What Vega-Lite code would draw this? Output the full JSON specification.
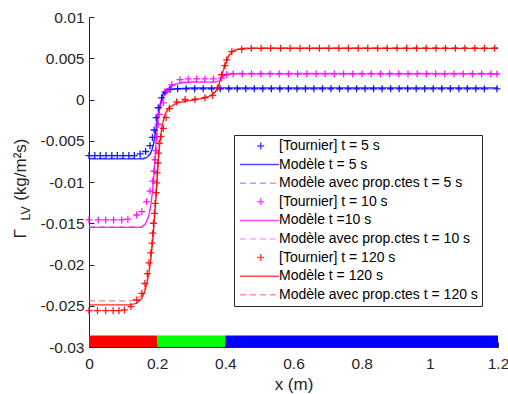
{
  "$schema": "https://vega.github.io/schema/vega-lite/v6.json",
  "width": 409,
  "height": 330,
  "autosize": {"type": "none"},
  "padding": {"left": 89, "top": 17, "right": 10, "bottom": 47},
  "background": "white",
  "config": {
    "view": {"stroke": null},
    "font": "Liberation Sans",
    "axis": {
      "labelFont": "Liberation Sans", "labelFontSize": 15.5, "labelColor": "#262626", "labelFlush": false,
      "titleFont": "Liberation Sans", "titleFontSize": 17, "titleColor": "#262626", "titleFontWeight": "normal",
      "domainColor": "#262626", "tickColor": "#262626", "grid": false, "tickSize": -5, "labelPadding": 10
    },
    "legend": {
      "orient": "none", "legendX": 145, "legendY": 118,
      "strokeColor": "#262626", "fillColor": "white", "padding": 4, "rowPadding": 4.6,
      "labelFont": "Liberation Sans", "labelFontSize": 14, "labelColor": "#000000",
      "symbolSize": 100, "symbolStrokeWidth": 1.5, "labelOffset": 27, "labelLimit": 400
    }
  },
  "datasets": {
    "tour": [
      {"x": 0, "y": -0.0068, "s": "t5"}, {"x": 0.017, "y": -0.0068, "s": "t5"}, {"x": 0.033, "y": -0.0068, "s": "t5"},
      {"x": 0.05, "y": -0.0068, "s": "t5"}, {"x": 0.067, "y": -0.0068, "s": "t5"}, {"x": 0.083, "y": -0.0068, "s": "t5"},
      {"x": 0.1, "y": -0.0068, "s": "t5"}, {"x": 0.117, "y": -0.0068, "s": "t5"}, {"x": 0.133, "y": -0.0068, "s": "t5"},
      {"x": 0.15, "y": -0.0066, "s": "t5"}, {"x": 0.166, "y": -0.0063, "s": "t5"}, {"x": 0.179, "y": -0.0056, "s": "t5"},
      {"x": 0.186, "y": -0.0046, "s": "t5"}, {"x": 0.191, "y": -0.0037, "s": "t5"}, {"x": 0.197, "y": -0.0022, "s": "t5"},
      {"x": 0.203, "y": -0.001, "s": "t5"}, {"x": 0.213, "y": 0.0002, "s": "t5"}, {"x": 0.223, "y": 0.0009, "s": "t5"},
      {"x": 0.238, "y": 0.0012, "s": "t5"}, {"x": 0.26, "y": 0.0013, "s": "t5"}, {"x": 0.285, "y": 0.0013, "s": "t5"},
      {"x": 0.31, "y": 0.0013, "s": "t5"}, {"x": 0.335, "y": 0.0013, "s": "t5"}, {"x": 0.36, "y": 0.0013, "s": "t5"},
      {"x": 0.385, "y": 0.0013, "s": "t5"}, {"x": 0.41, "y": 0.0013, "s": "t5"}, {"x": 0.435, "y": 0.0013, "s": "t5"},
      {"x": 0.46, "y": 0.0013, "s": "t5"}, {"x": 0.485, "y": 0.0013, "s": "t5"}, {"x": 0.51, "y": 0.0013, "s": "t5"},
      {"x": 0.535, "y": 0.0013, "s": "t5"}, {"x": 0.56, "y": 0.0013, "s": "t5"}, {"x": 0.585, "y": 0.0013, "s": "t5"},
      {"x": 0.61, "y": 0.0013, "s": "t5"}, {"x": 0.635, "y": 0.0013, "s": "t5"}, {"x": 0.66, "y": 0.0013, "s": "t5"},
      {"x": 0.685, "y": 0.0013, "s": "t5"}, {"x": 0.71, "y": 0.0013, "s": "t5"}, {"x": 0.735, "y": 0.0013, "s": "t5"},
      {"x": 0.76, "y": 0.0013, "s": "t5"}, {"x": 0.785, "y": 0.0013, "s": "t5"}, {"x": 0.81, "y": 0.0013, "s": "t5"},
      {"x": 0.835, "y": 0.0013, "s": "t5"}, {"x": 0.86, "y": 0.0013, "s": "t5"}, {"x": 0.885, "y": 0.0013, "s": "t5"},
      {"x": 0.91, "y": 0.0013, "s": "t5"}, {"x": 0.935, "y": 0.0013, "s": "t5"}, {"x": 0.96, "y": 0.0013, "s": "t5"},
      {"x": 0.985, "y": 0.0013, "s": "t5"}, {"x": 1.01, "y": 0.0013, "s": "t5"}, {"x": 1.035, "y": 0.0013, "s": "t5"},
      {"x": 1.06, "y": 0.0013, "s": "t5"}, {"x": 1.085, "y": 0.0013, "s": "t5"}, {"x": 1.11, "y": 0.0013, "s": "t5"},
      {"x": 1.135, "y": 0.0013, "s": "t5"}, {"x": 1.16, "y": 0.0013, "s": "t5"}, {"x": 1.197, "y": 0.0013, "s": "t5"},

      {"x": 0, "y": -0.0146, "s": "t10"}, {"x": 0.027, "y": -0.0146, "s": "t10"}, {"x": 0.049, "y": -0.0146, "s": "t10"},
      {"x": 0.072, "y": -0.0146, "s": "t10"}, {"x": 0.096, "y": -0.0146, "s": "t10"}, {"x": 0.114, "y": -0.0145, "s": "t10"},
      {"x": 0.14, "y": -0.014, "s": "t10"}, {"x": 0.155, "y": -0.0136, "s": "t10"}, {"x": 0.169, "y": -0.0124, "s": "t10"},
      {"x": 0.179, "y": -0.0111, "s": "t10"}, {"x": 0.187, "y": -0.0099, "s": "t10"}, {"x": 0.191, "y": -0.0087, "s": "t10"},
      {"x": 0.194, "y": -0.0073, "s": "t10"}, {"x": 0.197, "y": -0.0062, "s": "t10"}, {"x": 0.2, "y": -0.0045, "s": "t10"},
      {"x": 0.203, "y": -0.003, "s": "t10"}, {"x": 0.206, "y": -0.0018, "s": "t10"}, {"x": 0.218, "y": -0.0004, "s": "t10"},
      {"x": 0.228, "y": 0.001, "s": "t10"}, {"x": 0.243, "y": 0.0018, "s": "t10"}, {"x": 0.267, "y": 0.0024, "s": "t10"},
      {"x": 0.291, "y": 0.0025, "s": "t10"}, {"x": 0.316, "y": 0.0025, "s": "t10"}, {"x": 0.34, "y": 0.0025, "s": "t10"},
      {"x": 0.365, "y": 0.0025, "s": "t10"}, {"x": 0.389, "y": 0.0026, "s": "t10"}, {"x": 0.404, "y": 0.003, "s": "t10"},
      {"x": 0.423, "y": 0.0031, "s": "t10"}, {"x": 0.45, "y": 0.0031, "s": "t10"}, {"x": 0.477, "y": 0.0031, "s": "t10"},
      {"x": 0.504, "y": 0.0031, "s": "t10"}, {"x": 0.531, "y": 0.0031, "s": "t10"}, {"x": 0.558, "y": 0.0031, "s": "t10"},
      {"x": 0.585, "y": 0.0031, "s": "t10"}, {"x": 0.612, "y": 0.0031, "s": "t10"}, {"x": 0.639, "y": 0.0031, "s": "t10"},
      {"x": 0.666, "y": 0.0031, "s": "t10"}, {"x": 0.693, "y": 0.0031, "s": "t10"}, {"x": 0.72, "y": 0.0031, "s": "t10"},
      {"x": 0.747, "y": 0.0031, "s": "t10"}, {"x": 0.774, "y": 0.0031, "s": "t10"}, {"x": 0.801, "y": 0.0031, "s": "t10"},
      {"x": 0.828, "y": 0.0031, "s": "t10"}, {"x": 0.855, "y": 0.0031, "s": "t10"}, {"x": 0.882, "y": 0.0031, "s": "t10"},
      {"x": 0.909, "y": 0.0031, "s": "t10"}, {"x": 0.936, "y": 0.0031, "s": "t10"}, {"x": 0.963, "y": 0.0031, "s": "t10"},
      {"x": 0.99, "y": 0.0031, "s": "t10"}, {"x": 1.017, "y": 0.0031, "s": "t10"}, {"x": 1.044, "y": 0.0031, "s": "t10"},
      {"x": 1.071, "y": 0.0031, "s": "t10"}, {"x": 1.098, "y": 0.0031, "s": "t10"}, {"x": 1.125, "y": 0.0031, "s": "t10"},
      {"x": 1.152, "y": 0.0031, "s": "t10"}, {"x": 1.179, "y": 0.0031, "s": "t10"}, {"x": 1.197, "y": 0.0031, "s": "t10"},

      {"x": 0, "y": -0.0256, "s": "t120"}, {"x": 0.025, "y": -0.0256, "s": "t120"}, {"x": 0.049, "y": -0.0256, "s": "t120"},
      {"x": 0.071, "y": -0.0256, "s": "t120"}, {"x": 0.088, "y": -0.0256, "s": "t120"}, {"x": 0.104, "y": -0.0255, "s": "t120"},
      {"x": 0.123, "y": -0.0251, "s": "t120"}, {"x": 0.14, "y": -0.0243, "s": "t120"}, {"x": 0.155, "y": -0.0235, "s": "t120"},
      {"x": 0.164, "y": -0.0223, "s": "t120"}, {"x": 0.171, "y": -0.0211, "s": "t120"}, {"x": 0.176, "y": -0.0198, "s": "t120"},
      {"x": 0.181, "y": -0.0186, "s": "t120"}, {"x": 0.185, "y": -0.0174, "s": "t120"}, {"x": 0.187, "y": -0.0162, "s": "t120"},
      {"x": 0.189, "y": -0.015, "s": "t120"}, {"x": 0.192, "y": -0.0138, "s": "t120"}, {"x": 0.194, "y": -0.0126, "s": "t120"},
      {"x": 0.197, "y": -0.0113, "s": "t120"}, {"x": 0.199, "y": -0.0101, "s": "t120"}, {"x": 0.2, "y": -0.0089, "s": "t120"},
      {"x": 0.202, "y": -0.0077, "s": "t120"}, {"x": 0.204, "y": -0.0065, "s": "t120"}, {"x": 0.206, "y": -0.0053, "s": "t120"},
      {"x": 0.211, "y": -0.0045, "s": "t120"}, {"x": 0.218, "y": -0.0035, "s": "t120"}, {"x": 0.226, "y": -0.0022, "s": "t120"},
      {"x": 0.236, "y": -0.0011, "s": "t120"}, {"x": 0.257, "y": -0.0003, "s": "t120"}, {"x": 0.282, "y": 0.0, "s": "t120"},
      {"x": 0.311, "y": 0.0, "s": "t120"}, {"x": 0.34, "y": 0.0002, "s": "t120"}, {"x": 0.363, "y": 0.0005, "s": "t120"},
      {"x": 0.377, "y": 0.0014, "s": "t120"}, {"x": 0.389, "y": 0.003, "s": "t120"}, {"x": 0.399, "y": 0.0041, "s": "t120"},
      {"x": 0.404, "y": 0.0048, "s": "t120"}, {"x": 0.419, "y": 0.0058, "s": "t120"}, {"x": 0.448, "y": 0.0061, "s": "t120"},
      {"x": 0.476, "y": 0.0062, "s": "t120"}, {"x": 0.505, "y": 0.0062, "s": "t120"}, {"x": 0.533, "y": 0.0062, "s": "t120"},
      {"x": 0.562, "y": 0.0062, "s": "t120"}, {"x": 0.59, "y": 0.0062, "s": "t120"}, {"x": 0.619, "y": 0.0062, "s": "t120"},
      {"x": 0.647, "y": 0.0062, "s": "t120"}, {"x": 0.676, "y": 0.0062, "s": "t120"}, {"x": 0.704, "y": 0.0062, "s": "t120"},
      {"x": 0.733, "y": 0.0062, "s": "t120"}, {"x": 0.761, "y": 0.0062, "s": "t120"}, {"x": 0.79, "y": 0.0062, "s": "t120"},
      {"x": 0.818, "y": 0.0062, "s": "t120"}, {"x": 0.847, "y": 0.0062, "s": "t120"}, {"x": 0.875, "y": 0.0062, "s": "t120"},
      {"x": 0.904, "y": 0.0062, "s": "t120"}, {"x": 0.932, "y": 0.0062, "s": "t120"}, {"x": 0.961, "y": 0.0062, "s": "t120"},
      {"x": 0.989, "y": 0.0062, "s": "t120"}, {"x": 1.018, "y": 0.0062, "s": "t120"}, {"x": 1.046, "y": 0.0062, "s": "t120"},
      {"x": 1.075, "y": 0.0062, "s": "t120"}, {"x": 1.103, "y": 0.0062, "s": "t120"}, {"x": 1.132, "y": 0.0062, "s": "t120"},
      {"x": 1.16, "y": 0.0062, "s": "t120"}, {"x": 1.19, "y": 0.0062, "s": "t120"}
    ],
    "model": [
      {"x": 0, "y": -0.0072, "s": "m5"}, {"x": 0.16, "y": -0.0072, "s": "m5"}, {"x": 0.17, "y": -0.007, "s": "m5"},
      {"x": 0.18, "y": -0.0066, "s": "m5"}, {"x": 0.185, "y": -0.0061, "s": "m5"}, {"x": 0.19, "y": -0.0053, "s": "m5"},
      {"x": 0.195, "y": -0.004, "s": "m5"}, {"x": 0.2, "y": -0.0026, "s": "m5"}, {"x": 0.205, "y": -0.0014, "s": "m5"},
      {"x": 0.21, "y": -0.0004, "s": "m5"}, {"x": 0.215, "y": 0.0004, "s": "m5"}, {"x": 0.22, "y": 0.0009, "s": "m5"},
      {"x": 0.23, "y": 0.0012, "s": "m5"}, {"x": 0.25, "y": 0.0013, "s": "m5"}, {"x": 0.3, "y": 0.0014, "s": "m5"},
      {"x": 1.2, "y": 0.0014, "s": "m5"},

      {"x": 0, "y": -0.0155, "s": "m10"}, {"x": 0.155, "y": -0.0155, "s": "m10"}, {"x": 0.165, "y": -0.0151, "s": "m10"},
      {"x": 0.174, "y": -0.0143, "s": "m10"}, {"x": 0.181, "y": -0.013, "s": "m10"}, {"x": 0.187, "y": -0.0109, "s": "m10"},
      {"x": 0.191, "y": -0.0089, "s": "m10"}, {"x": 0.194, "y": -0.0069, "s": "m10"}, {"x": 0.197, "y": -0.0049, "s": "m10"},
      {"x": 0.2, "y": -0.0033, "s": "m10"}, {"x": 0.203, "y": -0.002, "s": "m10"}, {"x": 0.208, "y": -0.001, "s": "m10"},
      {"x": 0.213, "y": -0.0003, "s": "m10"}, {"x": 0.223, "y": 0.0008, "s": "m10"}, {"x": 0.238, "y": 0.0016, "s": "m10"},
      {"x": 0.267, "y": 0.002, "s": "m10"}, {"x": 0.3, "y": 0.0021, "s": "m10"}, {"x": 0.37, "y": 0.0021, "s": "m10"},
      {"x": 0.384, "y": 0.0023, "s": "m10"}, {"x": 0.392, "y": 0.0027, "s": "m10"}, {"x": 0.399, "y": 0.003, "s": "m10"},
      {"x": 0.414, "y": 0.0031, "s": "m10"}, {"x": 0.44, "y": 0.0031, "s": "m10"}, {"x": 1.2, "y": 0.0031, "s": "m10"},

      {"x": 0, "y": -0.0249, "s": "m120"}, {"x": 0.12, "y": -0.0249, "s": "m120"}, {"x": 0.14, "y": -0.0247, "s": "m120"},
      {"x": 0.155, "y": -0.0241, "s": "m120"}, {"x": 0.165, "y": -0.0231, "s": "m120"}, {"x": 0.175, "y": -0.0213, "s": "m120"},
      {"x": 0.182, "y": -0.0191, "s": "m120"}, {"x": 0.188, "y": -0.0166, "s": "m120"}, {"x": 0.193, "y": -0.0139, "s": "m120"},
      {"x": 0.198, "y": -0.0108, "s": "m120"}, {"x": 0.203, "y": -0.0076, "s": "m120"}, {"x": 0.208, "y": -0.0052, "s": "m120"},
      {"x": 0.215, "y": -0.0031, "s": "m120"}, {"x": 0.223, "y": -0.0018, "s": "m120"}, {"x": 0.235, "y": -0.001, "s": "m120"},
      {"x": 0.26, "y": -0.0004, "s": "m120"}, {"x": 0.3, "y": -0.0001, "s": "m120"}, {"x": 0.34, "y": 0.0002, "s": "m120"},
      {"x": 0.36, "y": 0.0005, "s": "m120"}, {"x": 0.37, "y": 0.0009, "s": "m120"}, {"x": 0.38, "y": 0.0016, "s": "m120"},
      {"x": 0.39, "y": 0.003, "s": "m120"}, {"x": 0.4, "y": 0.0043, "s": "m120"}, {"x": 0.41, "y": 0.0053, "s": "m120"},
      {"x": 0.42, "y": 0.0058, "s": "m120"}, {"x": 0.44, "y": 0.0061, "s": "m120"}, {"x": 0.47, "y": 0.0062, "s": "m120"},
      {"x": 1.2, "y": 0.0062, "s": "m120"}
    ],
    "cst": [
      {"x": 0, "y": -0.0071, "s": "c5"}, {"x": 0.16, "y": -0.0071, "s": "c5"}, {"x": 0.17, "y": -0.0069, "s": "c5"},
      {"x": 0.18, "y": -0.0065, "s": "c5"}, {"x": 0.185, "y": -0.006, "s": "c5"}, {"x": 0.19, "y": -0.0052, "s": "c5"},
      {"x": 0.195, "y": -0.0039, "s": "c5"}, {"x": 0.2, "y": -0.0025, "s": "c5"}, {"x": 0.205, "y": -0.0013, "s": "c5"},
      {"x": 0.21, "y": -0.0003, "s": "c5"}, {"x": 0.215, "y": 0.0005, "s": "c5"}, {"x": 0.22, "y": 0.0009, "s": "c5"},
      {"x": 0.23, "y": 0.0012, "s": "c5"}, {"x": 0.25, "y": 0.0013, "s": "c5"}, {"x": 1.2, "y": 0.0013, "s": "c5"},

      {"x": 0, "y": -0.0154, "s": "c10"}, {"x": 0.155, "y": -0.0154, "s": "c10"}, {"x": 0.165, "y": -0.015, "s": "c10"},
      {"x": 0.174, "y": -0.0142, "s": "c10"}, {"x": 0.181, "y": -0.0129, "s": "c10"}, {"x": 0.187, "y": -0.0108, "s": "c10"},
      {"x": 0.191, "y": -0.0088, "s": "c10"}, {"x": 0.194, "y": -0.0068, "s": "c10"}, {"x": 0.197, "y": -0.0048, "s": "c10"},
      {"x": 0.2, "y": -0.0032, "s": "c10"}, {"x": 0.203, "y": -0.0019, "s": "c10"}, {"x": 0.208, "y": -0.0009, "s": "c10"},
      {"x": 0.213, "y": -0.0002, "s": "c10"}, {"x": 0.223, "y": 0.0009, "s": "c10"}, {"x": 0.238, "y": 0.0017, "s": "c10"},
      {"x": 0.267, "y": 0.0021, "s": "c10"}, {"x": 0.3, "y": 0.0022, "s": "c10"}, {"x": 0.37, "y": 0.0022, "s": "c10"},
      {"x": 0.384, "y": 0.0024, "s": "c10"}, {"x": 0.392, "y": 0.0028, "s": "c10"}, {"x": 0.399, "y": 0.0031, "s": "c10"},
      {"x": 0.414, "y": 0.0032, "s": "c10"}, {"x": 0.44, "y": 0.0032, "s": "c10"}, {"x": 1.2, "y": 0.0032, "s": "c10"},

      {"x": 0, "y": -0.0244, "s": "c120"}, {"x": 0.12, "y": -0.0244, "s": "c120"}, {"x": 0.14, "y": -0.0242, "s": "c120"},
      {"x": 0.155, "y": -0.0237, "s": "c120"}, {"x": 0.165, "y": -0.0228, "s": "c120"}, {"x": 0.175, "y": -0.0211, "s": "c120"},
      {"x": 0.182, "y": -0.019, "s": "c120"}, {"x": 0.188, "y": -0.0165, "s": "c120"}, {"x": 0.193, "y": -0.0138, "s": "c120"},
      {"x": 0.198, "y": -0.0107, "s": "c120"}, {"x": 0.203, "y": -0.0075, "s": "c120"}, {"x": 0.208, "y": -0.0051, "s": "c120"},
      {"x": 0.215, "y": -0.003, "s": "c120"}, {"x": 0.223, "y": -0.0017, "s": "c120"}, {"x": 0.235, "y": -0.0009, "s": "c120"},
      {"x": 0.26, "y": -0.0003, "s": "c120"}, {"x": 0.3, "y": 0.0, "s": "c120"}, {"x": 0.34, "y": 0.0003, "s": "c120"},
      {"x": 0.36, "y": 0.0006, "s": "c120"}, {"x": 0.37, "y": 0.001, "s": "c120"}, {"x": 0.38, "y": 0.0017, "s": "c120"},
      {"x": 0.39, "y": 0.0031, "s": "c120"}, {"x": 0.4, "y": 0.0044, "s": "c120"}, {"x": 0.41, "y": 0.0054, "s": "c120"},
      {"x": 0.42, "y": 0.0059, "s": "c120"}, {"x": 0.44, "y": 0.0062, "s": "c120"}, {"x": 0.47, "y": 0.0063, "s": "c120"},
      {"x": 1.2, "y": 0.0063, "s": "c120"}
    ],
    "zones": [
      {"x1": 0, "x2": 0.2, "zone": "A"},
      {"x1": 0.2, "x2": 0.4, "zone": "B"},
      {"x1": 0.4, "x2": 1.2, "zone": "C"}
    ]
  },
  "resolve": {"axis": {"y": "independent"}},
  "layer": [
    {
      "data": {"name": "tour"},
      "transform": [{"filter": "datum.x < -10"}],
      "mark": {"type": "point", "filled": false, "strokeWidth": 1.5, "size": 100},
      "encoding": {
        "x": {"field": "x", "type": "quantitative", "scale": {"domain": [0, 1.2]},
          "axis": {"values": [0, 0.2, 0.4, 0.6, 0.8, 1, 1.2], "format": "~g", "title": "x (m)", "labelPadding": 14, "titlePadding": 5}},
        "y": {"field": "y", "type": "quantitative", "scale": {"domain": [-0.03, 0.01]},
          "axis": {"orient": "left", "values": [-0.03, -0.025, -0.02, -0.015, -0.01, -0.005, 0, 0.005, 0.01], "format": "~g",
            "labelExpr": "replace(datum.label, '\u2212', '-')", "title": "\u0393\u00a0\u00a0\u00a0\u00a0\u00a0\u00a0(kg/m²s)", "titleAngle": -90, "titleX": -64, "titleY": 221, "titleBaseline": "alphabetic", "titleAlign": "left", "titleFontSize": 17}},
        "color": {"field": "s", "type": "nominal",
          "scale": {"domain": ["t5", "m5", "c5", "t10", "m10", "c10", "t120", "m120", "c120"],
            "range": ["#0000ff", "#0000ff", "#8080ff", "#ff00ff", "#ff00ff", "#ff80ff", "#ff0000", "#ff0000", "#ff6666"]},
          "legend": {"title": null,
            "labelExpr": "datum.label == 't5' ? '[Tournier] t = 5 s' : datum.label == 'm5' ? 'Modèle t = 5 s' : datum.label == 'c5' ? 'Modèle avec prop.ctes t = 5 s' : datum.label == 't10' ? '[Tournier] t = 10 s' : datum.label == 'm10' ? 'Modèle t =10 s' : datum.label == 'c10' ? 'Modèle avec prop.ctes t = 10 s' : datum.label == 't120' ? '[Tournier] t = 120 s' : datum.label == 'm120' ? 'Modèle t = 120 s' : 'Modèle avec prop.ctes t = 120 s'"}},
        "shape": {"field": "s", "type": "nominal",
          "scale": {"domain": ["t5", "m5", "c5", "t10", "m10", "c10", "t120", "m120", "c120"],
            "range": ["M2.44,0H3.84M3.14,-0.7V0.7", "M-1,0H6.8", "M-1,0H6.8", "M2.44,0H3.84M3.14,-0.7V0.7", "M-1,0H6.8", "M-1,0H6.8", "M2.44,0H3.84M3.14,-0.7V0.7", "M-1,0H6.8", "M-1,0H6.8"]},
          "legend": {"title": null}},
        "strokeDash": {"field": "s", "type": "nominal",
          "scale": {"domain": ["t5", "m5", "c5", "t10", "m10", "c10", "t120", "m120", "c120"],
            "range": [[1, 0], [1, 0], [6, 4], [1, 0], [1, 0], [6, 4], [1, 0], [1, 0], [6, 4]]},
          "legend": {"title": null}}
      }
    },
    {
      "data": {"name": "cst"},
      "mark": {"type": "line", "strokeWidth": 1.3, "strokeDash": [6, 4], "opacity": 0.8},
      "encoding": {
        "x": {"field": "x", "type": "quantitative"},
        "y": {"field": "y", "type": "quantitative",
          "axis": {"orient": "left", "domain": false, "ticks": false, "labels": false, "title": "LV", "titleAngle": -90, "titleX": -60, "titleY": 203, "titleBaseline": "alphabetic", "titleAlign": "left", "titleFontSize": 12.5}},
        "color": {"field": "s", "type": "nominal", "legend": null},
        "detail": {"field": "s", "type": "nominal"}
      }
    },
    {
      "data": {"name": "model"},
      "mark": {"type": "line", "strokeWidth": 1.3, "opacity": 0.85},
      "encoding": {
        "x": {"field": "x", "type": "quantitative"},
        "y": {"field": "y", "type": "quantitative", "axis": null},
        "color": {"field": "s", "type": "nominal", "legend": null},
        "detail": {"field": "s", "type": "nominal"}
      }
    },
    {
      "data": {"name": "tour"},
      "mark": {"type": "point", "shape": "M-1,0H1M0,-1V1", "size": 49, "filled": false, "strokeWidth": 1.3, "opacity": 0.9},
      "encoding": {
        "x": {"field": "x", "type": "quantitative"},
        "y": {"field": "y", "type": "quantitative", "axis": null},
        "color": {"field": "s", "type": "nominal", "legend": null}
      }
    },
    {
      "data": {"name": "zones"},
      "mark": {"type": "rect"},
      "encoding": {
        "x": {"field": "x1", "type": "quantitative"},
        "x2": {"field": "x2"},
        "y": {"datum": -0.03, "axis": null},
        "y2": {"datum": -0.0286},
        "fill": {"field": "zone", "type": "nominal", "scale": {"domain": ["A", "B", "C"], "range": ["#ff0000", "#00ff00", "#0000ff"]}, "legend": null}
      }
    }
  ]
}
